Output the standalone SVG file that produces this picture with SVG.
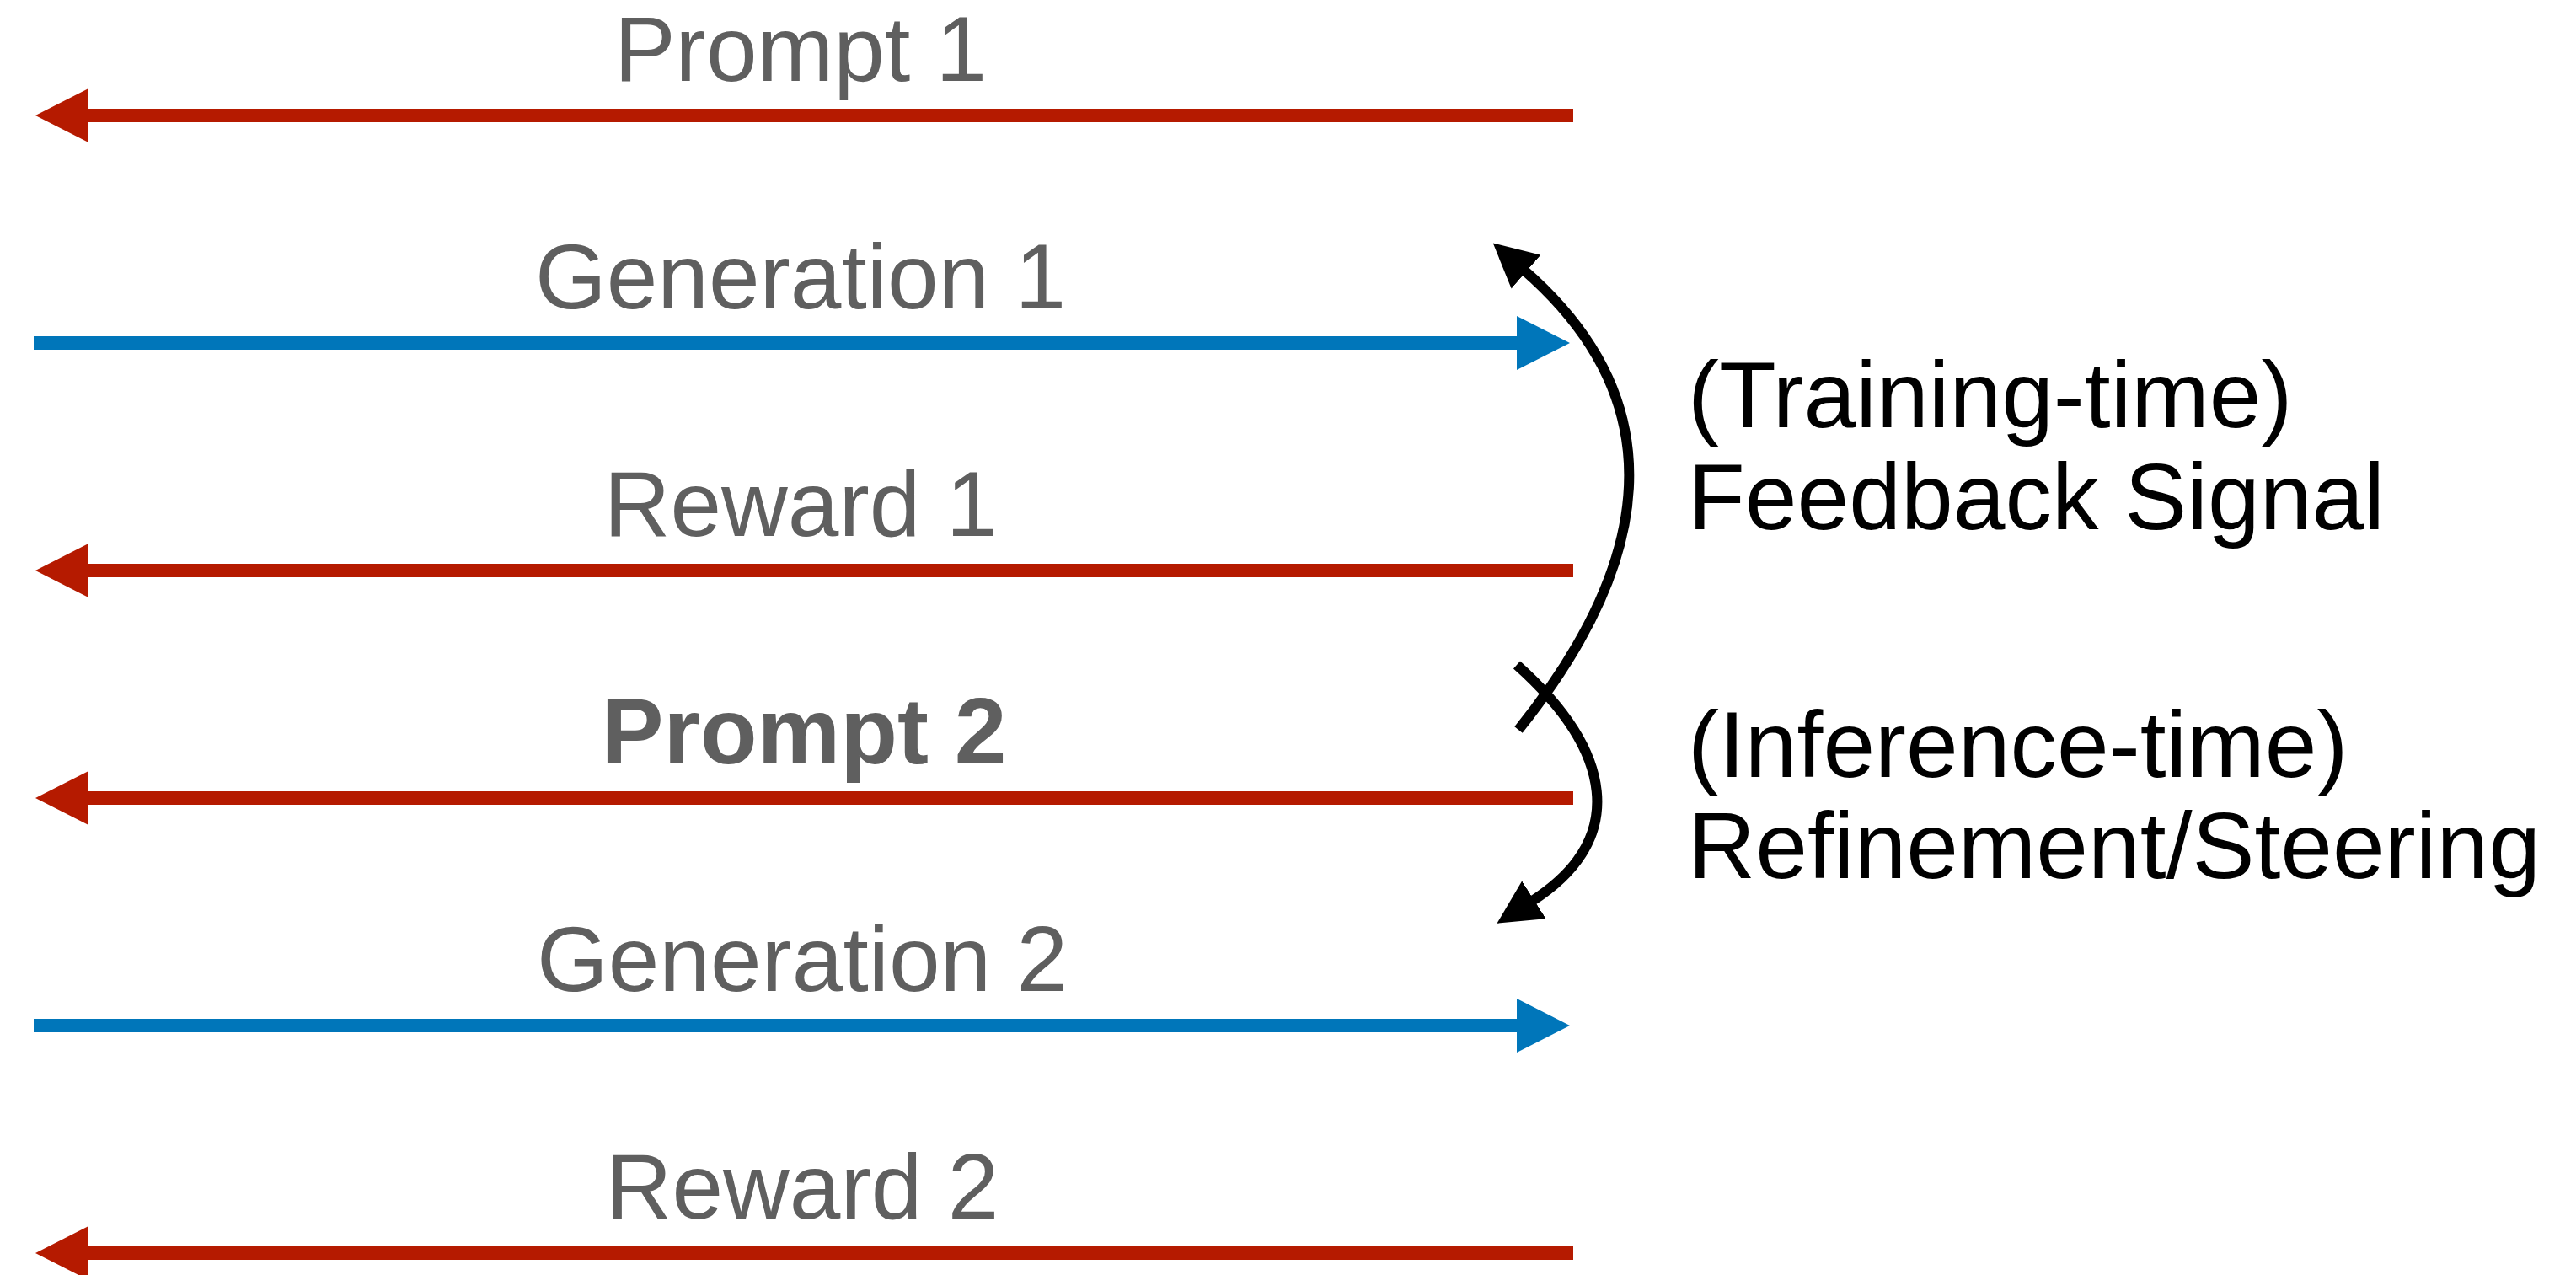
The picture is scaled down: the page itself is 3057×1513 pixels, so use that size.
<svg xmlns="http://www.w3.org/2000/svg" width="3057" height="1513" viewBox="0 0 3057 1513">
  <style>
    .lbl { font-family: "Liberation Sans", Arial, sans-serif; font-size: 109px; fill: #5f5f5f; text-anchor: middle; }
    .lbl.bold { font-weight: bold; font-size: 111px; }
    .note { font-family: "Liberation Sans", Arial, sans-serif; font-size: 111px; fill: #000000; }
    .red { stroke: #B51A00; stroke-width: 16; fill: none; }
    .blue { stroke: #0076BA; stroke-width: 16; fill: none; }
    .curve { stroke: #000000; stroke-width: 12; fill: none; }
  </style>
  <defs>
    <marker id="headRed" markerUnits="userSpaceOnUse" viewBox="0 0 63 64" refX="4" refY="32" markerWidth="63" markerHeight="64" orient="auto">
      <path d="M0,0 L63,32 L0,64 Z" fill="#B51A00"/>
    </marker>
    <marker id="headBlue" markerUnits="userSpaceOnUse" viewBox="0 0 63 64" refX="4" refY="32" markerWidth="63" markerHeight="64" orient="auto">
      <path d="M0,0 L63,32 L0,64 Z" fill="#0076BA"/>
    </marker>
    <marker id="headBlack" markerUnits="userSpaceOnUse" viewBox="0 0 52 53" refX="4" refY="26.5" markerWidth="52" markerHeight="53" orient="auto">
      <path d="M0,0 L52,26.5 L0,53 Z" fill="#000000"/>
    </marker>
  </defs>

  <!-- message rows -->
  <g id="connectors">
    <line class="red" x1="1867" y1="137" x2="101" y2="137" marker-end="url(#headRed)"/>
    <line class="blue" x1="40" y1="407" x2="1804" y2="407" marker-end="url(#headBlue)"/>
    <line class="red" x1="1867" y1="677" x2="101" y2="677" marker-end="url(#headRed)"/>
    <line class="red" x1="1867" y1="947" x2="101" y2="947" marker-end="url(#headRed)"/>
    <line class="blue" x1="40" y1="1217" x2="1804" y2="1217" marker-end="url(#headBlue)"/>
    <line class="red" x1="1867" y1="1487" x2="101" y2="1487" marker-end="url(#headRed)"/>
    <!-- feedback loops -->
    <path class="curve" d="M1802,866 C1959,670 1992,480 1808,320" marker-end="url(#headBlack)"/>
    <path class="curve" d="M1800,789 C1912,889 1935,995 1817,1070" marker-end="url(#headBlack)"/>
  </g>

  <g id="prompt1"><text class="lbl" x="950" y="96">Prompt 1</text></g>
  <g id="generation1"><text class="lbl" x="950" y="366">Generation 1</text></g>
  <g id="reward1"><text class="lbl" x="950" y="636">Reward 1</text></g>
  <g id="prompt2"><text class="lbl bold" x="954" y="906">Prompt 2</text></g>
  <g id="generation2"><text class="lbl" x="952" y="1176">Generation 2</text></g>
  <g id="reward2"><text class="lbl" x="952" y="1446">Reward 2</text></g>

  <g id="feedback-signal">
    <text class="note" x="2003" y="507">(Training-time)</text>
    <text class="note" x="2003" y="628">Feedback Signal</text>
  </g>
  <g id="refinement">
    <text class="note" x="2003" y="922">(Inference-time)</text>
    <text class="note" x="2003" y="1042">Refinement/Steering</text>
  </g>
</svg>
